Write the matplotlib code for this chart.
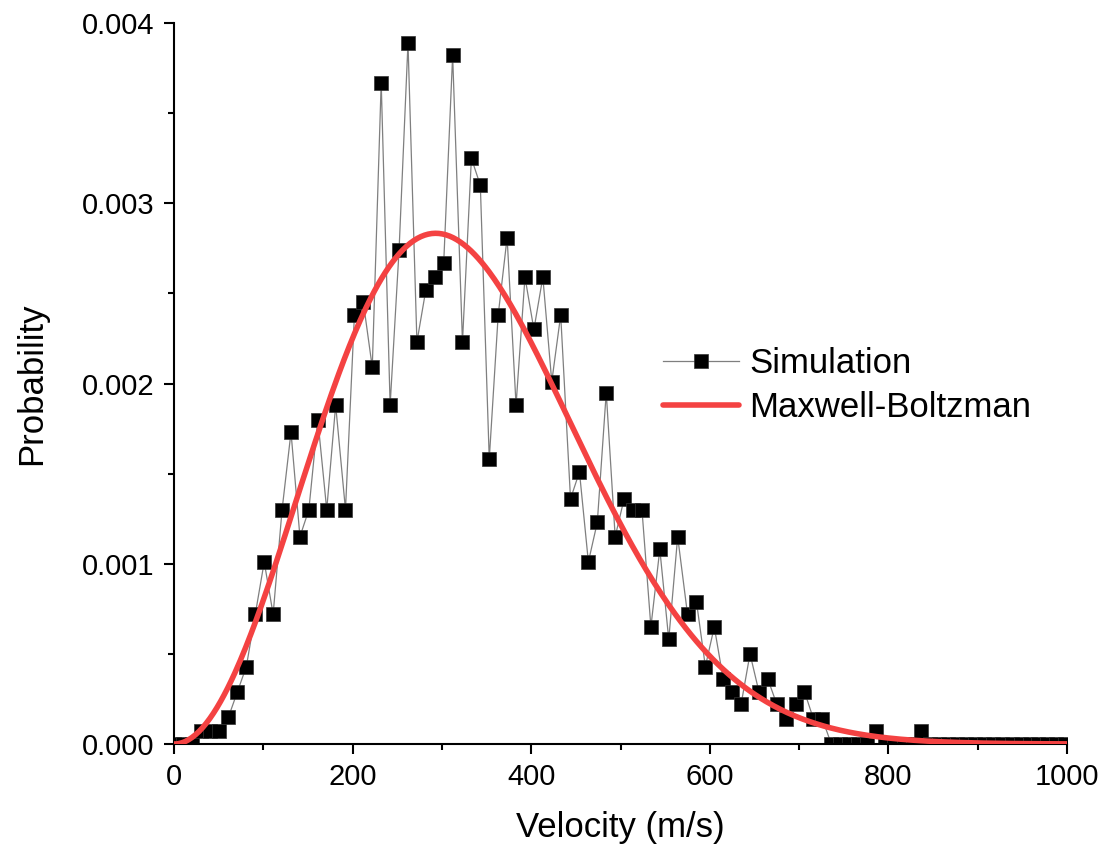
"""
Velocity distribution: simulation vs Maxwell-Boltzmann
"""

import matplotlib
matplotlib.use("Agg")
import matplotlib.pyplot as plt
from matplotlib.ticker import MultipleLocator, FormatStrFormatter
import numpy as np

plt.rcParams['font.family'] = ['Liberation Sans', 'DejaVu Sans']

# Simulation histogram (bin centre in m/s, probability)
velocity = [0, 10, 20, 30, 40, 50, 61, 71, 81, 91,
            101, 111, 121, 131, 141, 151, 161, 171, 181, 192,
            202, 212, 222, 232, 242, 252, 262, 272, 282, 292,
            302, 312, 323, 333, 343, 353, 363, 373, 383, 393,
            403, 413, 423, 433, 444, 454, 464, 474, 484, 494,
            504, 514, 524, 534, 544, 554, 564, 575, 585, 595,
            605, 615, 625, 635, 645, 655, 665, 675, 685, 696,
            706, 716, 726, 736, 746, 756, 766, 776, 786, 796,
            806, 817, 827, 837, 847, 857, 867, 877, 887, 897,
            907, 917, 927, 938, 948, 958, 968, 978, 988, 998]

probability = [0, 0, 0, 0.000072, 0.000072, 0.000072, 0.00015, 0.00029, 0.00043, 0.00072,
               0.00101, 0.00072, 0.0013, 0.00173, 0.00115, 0.0013, 0.0018, 0.0013, 0.00188, 0.0013,
               0.00238, 0.00245, 0.00209, 0.00367, 0.00188, 0.00274, 0.00389, 0.00223, 0.00252, 0.00259,
               0.00267, 0.00382, 0.00223, 0.00325, 0.0031, 0.00158, 0.00238, 0.00281, 0.00188, 0.00259,
               0.0023, 0.00259, 0.00201, 0.00238, 0.00136, 0.00151, 0.00101, 0.00123, 0.00195, 0.00115,
               0.00136, 0.0013, 0.0013, 0.00065, 0.00108, 0.00058, 0.00115, 0.00072, 0.00079, 0.00043,
               0.00065, 0.00036, 0.00029, 0.00022, 0.0005, 0.00029, 0.00036, 0.00022, 0.00014, 0.00022,
               0.00029, 0.00014, 0.00014, 0, 0, 0, 0, 0, 0.000072, 0,
               0, 0, 0, 0.000072, 0, 0, 0, 0, 0, 0,
               0, 0, 0, 0, 0, 0, 0, 0, 0, 0]

# most probable speed of the theoretical curve (m/s)
v_peak = 293

# Maxwell-Boltzmann speed distribution
v = np.linspace(0, 1000, 500)
mb = 4 / np.sqrt(np.pi) * v**2 / v_peak**3 * np.exp(-(v / v_peak)**2)

fig = plt.figure(figsize=(11.07, 8.5), dpi=100)
ax = fig.add_axes([0.1572, 0.1247, 0.8067, 0.8482])

ax.plot(velocity, probability, '-s', color='#7f7f7f', linewidth=0.9,
        markersize=10.5, markerfacecolor='black', markeredgecolor='#333333',
        markeredgewidth=0.5, label='Simulation', zorder=2)
ax.plot(v, mb, color='#f44242', linewidth=4, label='Maxwell-Boltzman',
        solid_capstyle='round', zorder=3)

ax.set_xlim(0, 1000)
ax.set_ylim(0, 0.004)
ax.xaxis.set_major_locator(MultipleLocator(200))
ax.xaxis.set_minor_locator(MultipleLocator(100))
ax.yaxis.set_major_locator(MultipleLocator(0.001))
ax.yaxis.set_minor_locator(MultipleLocator(0.0005))
ax.yaxis.set_major_formatter(FormatStrFormatter('%.3f'))

for side in ['top', 'right']:
    ax.spines[side].set_visible(False)
for side in ['left', 'bottom']:
    ax.spines[side].set_linewidth(1.5)

ax.tick_params(which='major', direction='out', length=7, width=1.5,
               labelsize=21, pad=7)
ax.tick_params(which='minor', direction='out', length=4, width=1.5)

ax.set_xlabel('Velocity (m/s)', fontsize=25, labelpad=14)
ax.set_ylabel('Probability', fontsize=25, labelpad=24)

ax.legend(loc='center left', bbox_to_anchor=(0.547, 0.497), frameon=False,
          fontsize=25, handlelength=2.2, handletextpad=0.3,
          labelspacing=0.32, borderpad=0, borderaxespad=0)

fig.savefig('out.png', dpi=100)
